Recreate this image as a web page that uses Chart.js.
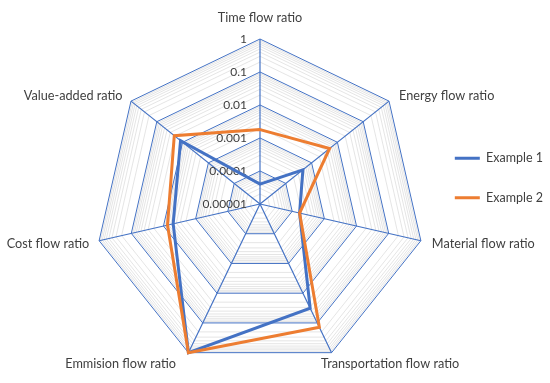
<!DOCTYPE html>
<html>
<head>
<meta charset="utf-8">
<script src="https://cdn.jsdelivr.net/npm/chart.js@4/dist/chart.umd.min.js"></script>
<style>
html,body{margin:0;padding:0;background:#fff;}
#wrap{width:550px;height:383px;position:relative;}
</style>
</head>
<body>
<div id="wrap"><canvas id="c"></canvas></div>
<script>
const categories = ['Time flow ratio','Energy flow ratio','Material flow ratio','Transportation flow ratio','Emmision flow ratio','Cost flow ratio','Value-added ratio'];
const example1 = [4e-5, 4.6e-4, 1.7e-4, 0.032, 1, 5e-3, 0.012];
const example2 = [1.8e-3, 5e-3, 1.7e-4, 0.14, 1, 7.5e-3, 0.021];
const tickValues = [0.00001, 0.0001, 0.001, 0.01, 0.1, 1];
const tickLabels = ['0.00001','0.0001','0.001','0.01','0.1','1'];

const BLUE = '#4472C4';
const ORANGE = '#ED7D31';
const TEXT = '#404040';
const FONT = 'Lato';

// label placement relative to each axis end (style only)
const labelPlacement = [
  {align: 'center', dx: 0, dy: -21},
  {align: 'left', dx: 10, dy: -5.5},
  {align: 'left', dx: 11, dy: 3},
  {align: 'left', dx: -10.5, dy: 11},
  {align: 'right', dx: -12.5, dy: 11},
  {align: 'right', dx: -10, dy: 3},
  {align: 'right', dx: -8.5, dy: -5.5}
];

const lg = v => Math.log10(v);
const isMajor = v => Math.abs(v - Math.round(v)) < 1e-9;

const axisTextPlugin = {
  id: 'axisText',
  beforeDatasetsDraw(chart) {
    const s = chart.scales.r;
    const ctx = chart.ctx;
    ctx.save();
    ctx.fillStyle = TEXT;
    ctx.textBaseline = 'middle';
    // radial tick labels
    ctx.font = '12px ' + FONT;
    ctx.textAlign = 'right';
    tickValues.forEach((v, i) => {
      const d = s.getDistanceFromCenterForValue(lg(v));
      ctx.fillText(tickLabels[i], s.xCenter - 13, s.yCenter - d);
    });
    // category labels
    ctx.font = '12.7px ' + FONT;
    chart.data.labels.forEach((lab, i) => {
      const p = s.getPointPosition(i, s.drawingArea);
      const pl = labelPlacement[i];
      ctx.textAlign = pl.align;
      ctx.fillText(lab, p.x + pl.dx, p.y + pl.dy);
    });
    ctx.restore();
  }
};

new Chart(document.getElementById('c'), {
  type: 'radar',
  data: {
    labels: categories,
    datasets: [
      {label: 'Example 1', data: example1.map(lg), borderColor: BLUE, backgroundColor: BLUE, borderWidth: 3, pointRadius: 0, fill: false, order: 1},
      {label: 'Example 2', data: example2.map(lg), borderColor: ORANGE, backgroundColor: ORANGE, borderWidth: 3, pointRadius: 0, fill: false, order: 0}
    ]
  },
  options: {
    responsive: true,
    maintainAspectRatio: false,
    animation: false,
    layout: {padding: {left: 94, top: 39, bottom: 14, right: -3}},
    elements: {line: {tension: 0, borderJoinStyle: 'miter'}},
    plugins: {
      tooltip: {enabled: false},
      legend: {
        position: 'right',
        align: 'start',
        title: {display: true, text: '', font: {size: 12}, padding: {top: 71.6, bottom: 0}},
        labels: {
          usePointStyle: true,
          pointStyle: 'line',
          pointStyleWidth: 25,
          boxHeight: 12,
          padding: 27,
          color: TEXT,
          font: {family: FONT, size: 12.5},
          sort: (a, b) => a.datasetIndex - b.datasetIndex
        }
      }
    },
    scales: {
      r: {
        min: -5,
        max: 0,
        afterBuildTicks(scale) {
          const t = [];
          for (let e = -5; e < 0; e++) {
            for (let k = 1; k <= 9; k++) t.push({value: Math.log10(k) + e});
          }
          t.push({value: 0});
          scale.ticks = t;
        },
        ticks: {display: false},
        grid: {
          color: c => (c.tick && isMajor(c.tick.value)) ? BLUE : '#DCDCDC',
          lineWidth: c => (c.tick && isMajor(c.tick.value)) ? 1 : 0.75
        },
        angleLines: {color: BLUE, lineWidth: 1.2},
        pointLabels: {display: false}
      }
    }
  },
  plugins: [axisTextPlugin]
});
</script>
</body>
</html>
